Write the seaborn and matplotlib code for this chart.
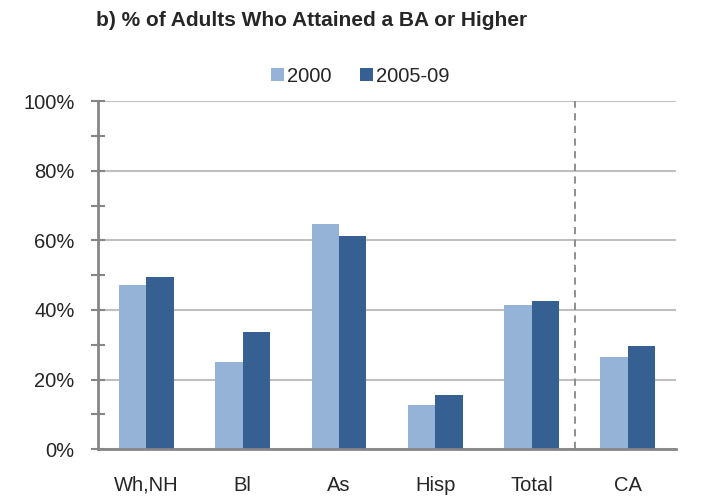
import matplotlib
matplotlib.use("Agg")
import matplotlib.pyplot as plt
from matplotlib.ticker import MultipleLocator, PercentFormatter
import pandas as pd
import seaborn as sns

# Values (% of adults with BA or higher)
groups = ['Wh,NH', 'Bl', 'As', 'Hisp', 'Total', 'CA']
years = ['2000', '2005-09']
vals_2000 = [47.1, 25.1, 64.7, 12.7, 41.5, 26.6]
vals_2005 = [49.5, 33.7, 61.2, 15.7, 42.5, 29.7]
colors = ['#95b3d7', '#366092']

df = pd.DataFrame({
    'group': groups * 2,
    'year': [years[0]] * len(groups) + [years[1]] * len(groups),
    'pct': vals_2000 + vals_2005,
})

sns.set_style('white')
plt.rcParams['font.family'] = ['Liberation Sans', 'DejaVu Sans']

fig = plt.figure(figsize=(7.02, 4.98), dpi=100)
ax = fig.add_axes([0.140, 0.098, 0.823, 0.699])

sns.barplot(data=df, x='group', y='pct', hue='year', order=groups,
            hue_order=years, palette=colors, width=0.57, gap=0,
            saturation=1, edgecolor='none', ax=ax, legend=True)

ax.set_ylim(0, 100)
ax.set_xlim(-0.5, len(groups) - 0.5)
ax.yaxis.set_major_locator(MultipleLocator(20))
ax.yaxis.set_minor_locator(MultipleLocator(10))
ax.yaxis.set_major_formatter(PercentFormatter(decimals=0))
ax.grid(axis='y', which='major', color='#bfbfbf', linewidth=1.5)
ax.set_axisbelow(True)

for side in ['top', 'right']:
    ax.spines[side].set_visible(False)
for side in ['left', 'bottom']:
    ax.spines[side].set_color('#868686')
    ax.spines[side].set_linewidth(2)

ax.tick_params(axis='y', which='both', direction='inout', length=10,
               width=1.5, color='#868686', pad=12, labelsize=14.5,
               left=True)
ax.tick_params(axis='x', length=0, pad=19, labelsize=14.5)
ax.set_xlabel('')
ax.set_ylabel('')

# separator between the groups and the state total
ax.axvline(4.45, color='#868686', linestyle=(0, (4, 3)), linewidth=1.3)

ax.legend(loc='center', bbox_to_anchor=(0.513, 0.847),
          bbox_transform=fig.transFigure, ncol=2, frameon=False,
          fontsize=14.5, handlelength=0.65, handleheight=0.65,
          handletextpad=0.15, columnspacing=1.4)

fig.text(0.137, 0.958, 'b) % of Adults Who Attained a BA or Higher',
         fontsize=15, fontweight='bold', va='center', ha='left')

fig.savefig('out.png', dpi=100)
